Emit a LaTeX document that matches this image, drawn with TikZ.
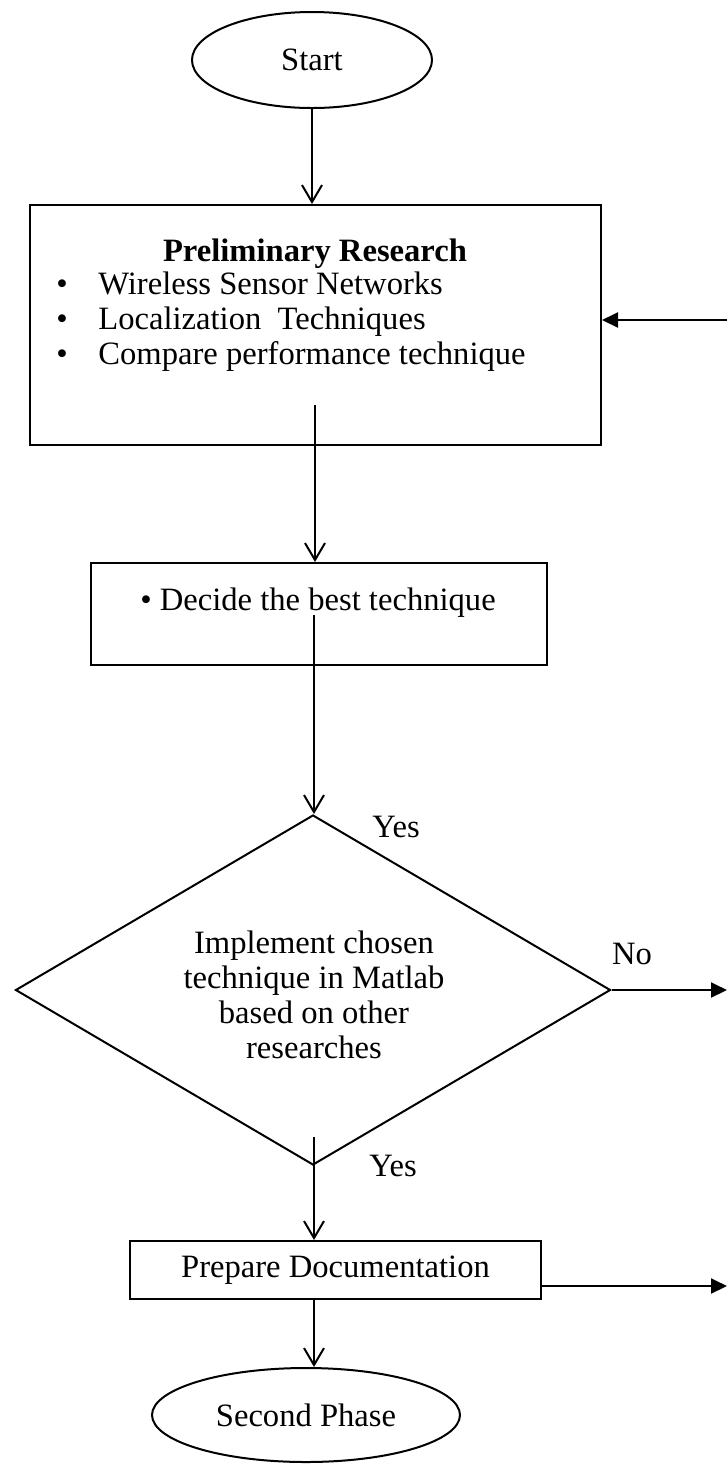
\documentclass[tikz,border=0pt]{standalone}
\usepackage{fontspec}
\setmainfont{Liberation Serif}
\usetikzlibrary{shapes.geometric,arrows.meta,positioning,calc}
\newcommand{\FlowTextSize}{\fontsize{16.3}{17.5}\selectfont}

\tikzset{
	flowline/.style={line width=1pt},
	downarrow/.style={flowline, -{Straight Barb[length=8.5pt, width=10pt, line width=1pt]}},
	sidearrow/.style={flowline, -{Triangle[length=8pt, width=7.5pt]}},
	flowtext/.style={font=\FlowTextSize, inner sep=0pt, text height=0.7em, text depth=0.25em},
	terminal/.style={draw, ellipse, line width=1pt, inner sep=0pt, font=\FlowTextSize},
	stepbox/.style={draw, rectangle, line width=1pt, inner sep=0pt, font=\FlowTextSize},
	decision/.style={draw, diamond, line width=1pt, inner sep=0pt},
}

\begin{document}
\begin{tikzpicture}[x=0.5pt, y=-0.5pt]
		\useasboundingbox (0,0) rectangle (727,1464);
		% terminals and steps
		\node[terminal, minimum width=120pt, minimum height=48pt] (start) at (312,60) {Start};
		\node[stepbox, minimum width=285.5pt, minimum height=120pt] (prelim) at (315.5,325) {};
		\node[flowtext, font=\FlowTextSize\bfseries] (prelimtitle) at (315,257) {Preliminary Research};
		\node[flowtext, anchor=west] (wsn) at (98,290) {Wireless Sensor Networks};
		\node[flowtext, anchor=west] (loc) at (98,325) {Localization\ \ Techniques};
		\node[flowtext, anchor=west] (cmp) at (98,360) {Compare performance technique};
		\node[flowtext] (wsnbullet) at (62,290) {\textbullet};
		\node[flowtext] (locbullet) at (62,325) {\textbullet};
		\node[flowtext] (cmpbullet) at (62,360) {\textbullet};
		\node[stepbox, minimum width=228pt, minimum height=51pt] (decide) at (319,614) {};
		\node[flowtext] (decidetext) at (318,606) {\textbullet\ Decide the best technique};
		\node[decision, minimum width=297.5pt, minimum height=175pt] (impl) at (313,990) {};
		\node[flowtext, align=center, text height=, text depth=] (impltext) at (314,995) {Implement chosen\\technique in Matlab\\based on other\\researches};
		\node[flowtext] (yestop) at (396,833) {Yes};
		\node[flowtext] (yesbottom) at (393,1172) {Yes};
		\node[flowtext] (no) at (632,960) {No};
		\node[stepbox, minimum width=205.5pt, minimum height=29pt] (prep) at (335.5,1270) {Prepare Documentation};
		\node[terminal, minimum width=154pt, minimum height=47pt] (second) at (306,1415) {Second Phase};
		% connectors
		\coordinate (prelimout) at (315,405);
		\coordinate (decideout) at (314,615);
		\coordinate (implout) at (314,1137);
		\coordinate (loopin) at (727,320);
		\coordinate (noout) at (727,990);
		\coordinate (prepout) at (727,1286);
		\draw[downarrow] (start.south) -- (start.south |- prelim.north);
		\draw[downarrow] (prelimout) -- (prelimout |- decide.north);
		\draw[downarrow] (decideout) -- (decideout |- impl.north);
		\draw[downarrow] (implout) -- (implout |- prep.north);
		\draw[downarrow] (prep.south -| implout) -- (second.north -| implout);
		\draw[sidearrow] (loopin) -- (loopin -| prelim.east);
		\draw[sidearrow] (impl.east) -- (noout);
		\draw[sidearrow] (prepout -| prep.east) -- (prepout);
	\end{tikzpicture}
\end{document}
